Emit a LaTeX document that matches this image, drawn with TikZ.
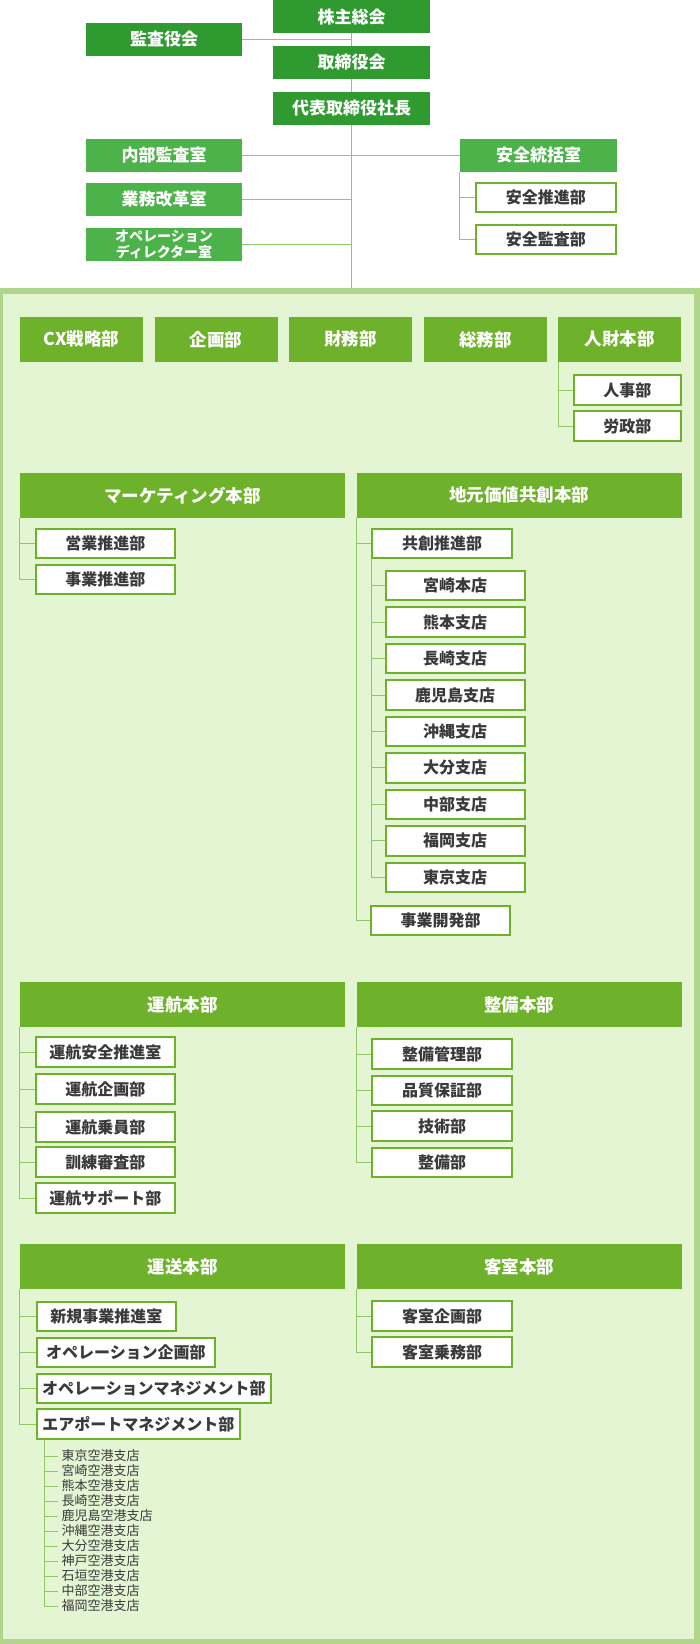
\documentclass[tikz,border=0pt]{standalone}
\usepackage{fontspec}
\setmainfont{Noto Sans CJK JP}
\definecolor{topgreen}{RGB}{47,154,48}
\definecolor{staffgreen}{RGB}{76,178,74}
\definecolor{hqgreen}{RGB}{110,177,42}
\definecolor{linegreen}{RGB}{143,200,100}
\definecolor{frameline}{RGB}{176,214,140}
\definecolor{framefill}{RGB}{228,245,212}
\definecolor{textgray}{RGB}{58,58,58}
\tikzset{
  boxbase/.style={inner sep=0pt, align=center},
  topbox/.style={boxbase, fill=topgreen, text=white, minimum width=157pt, minimum height=33pt,
    font=\bfseries\fontsize{17}{19}\selectfont},
  staffbox/.style={topbox, fill=staffgreen},
  hqbox/.style={boxbase, fill=hqgreen, text=white, minimum height=44.7pt,
    font=\bfseries\fontsize{17.5}{19}\selectfont},
  deptbox/.style={boxbase, fill=white, draw=hqgreen, line width=2pt, text=textgray,
    minimum width=139.5pt, minimum height=29.3pt, font=\bfseries\fontsize{16}{18}\selectfont},
  airport/.style={anchor=west, inner xsep=3pt, inner ysep=0pt, text=textgray,
    font=\fontsize{13}{14}\selectfont},
  link/.style={draw=linegreen, line width=1pt}
}
\begin{document}
\begin{tikzpicture}[x=1pt, y=-1pt]
	\useasboundingbox (0,0) rectangle (700,1644);

	% frame
	\fill[frameline] (0,288) rectangle (700,1644);
	\fill[framefill] (3,293.5) rectangle (694,1639);
	\coordinate (frametop) at (351.5,288);

	% top management
	\node[topbox] (kabu) at (351.5,16.5) {株主総会};
	\node[topbox, minimum width=156pt] (kansa) at (164,39.5) {監査役会};
	\node[topbox] (torishimari) at (351.5,62.5) {取締役会};
	\node[topbox] (shacho) at (351.5,108.5) {代表取締役社長};
	\node[staffbox, minimum width=156pt] (naibu) at (164,155.5) {内部監査室};
	\node[staffbox, minimum width=156pt] (kaikaku) at (164,199.5) {業務改革室};
	\node[staffbox, minimum width=156pt, font=\bfseries\fontsize{14}{15.6}\selectfont] (opdir) at (164,244.5) {オペレーション\\ディレクター室};
	\node[staffbox] (anzen) at (538.5,155.5) {安全統括室};
	\node[deptbox, minimum width=140.5pt] (anzensuishin) at (545.75,197.7) {安全推進部};
	\node[deptbox, minimum width=140.5pt] (anzenkansa) at (545.75,239.8) {安全監査部};

	\draw[link] (kabu) -- (torishimari);
	\draw[link] (torishimari) -- (shacho);
	\draw[link] (shacho) -- (frametop);
	\draw[link] (kansa.east) -- (kansa.east -| kabu);
	\draw[link] (naibu.east) -- (anzen.west);
	\draw[link] (kaikaku.east) -- (kaikaku.east -| shacho);
	\draw[link] (opdir.east) -- (opdir.east -| shacho);
	\draw[link] (anzen.south west) |- (anzensuishin.west);
	\draw[link] (anzen.south west) |- (anzenkansa.west);

	% first row
	\foreach \name/\txt [count=\i from 0] in {cx/CX戦略部, kikaku/企画部, zaimu/財務部, somu/総務部, jinzai/人財本部}
		\node[hqbox, minimum width=123pt] (\name) at (81.5+134.6*\i,339.35) {\txt};
	\node[deptbox, minimum width=106.7pt, minimum height=30pt] (jinji) at (627.35,390.3) {人事部};
	\node[deptbox, minimum width=106.7pt, minimum height=30pt] (rosei) at (627.35,426.3) {労政部};
	\draw[link] (jinzai.south west) |- (jinji.west);
	\draw[link] (jinzai.south west) |- (rosei.west);

	% marketing / chiiki
	\node[hqbox, minimum width=325pt] (mkt) at (182.5,495.35) {マーケティング本部};
	\node[hqbox, minimum width=324.7pt] (chimoto) at (519.35,495.35) {地元価値共創本部};
	\node[deptbox] (eigyo) at (105.25,543.5) {営業推進部};
	\node[deptbox] (jigyo) at (105.25,579.7) {事業推進部};
	\draw[link] (mkt.south west) |- (eigyo.west);
	\draw[link] (mkt.south west) |- (jigyo.west);

	\node[deptbox, minimum width=140pt] (kyoso) at (442,543.5) {共創推進部};
	\foreach \txt [count=\i from 0] in {宮崎本店, 熊本支店, 長崎支店, 鹿児島支店, 沖縄支店, 大分支店, 中部支店, 福岡支店, 東京支店} {
		\node[deptbox, minimum width=139pt] (shiten\i) at (455,585.65+36.46*\i) {\txt};
		\draw[link] (kyoso.south west) |- (shiten\i.west);
	}
	\node[deptbox, minimum width=139.3pt] (kaihatsu) at (440.65,920.3) {事業開発部};
	\draw[link] (chimoto.south west) |- (kyoso.west);
	\draw[link] (chimoto.south west) |- (kaihatsu.west);

	% flight ops / maintenance
	\node[hqbox, minimum width=325pt] (unko) at (182.5,1004.5) {運航本部};
	\node[hqbox, minimum width=324.7pt] (seibi) at (519.35,1004.5) {整備本部};
	\foreach \txt/\y [count=\i] in {運航安全推進室/1052, 運航企画部/1089, 運航乗員部/1127, 訓練審査部/1162, 運航サポート部/1198} {
		\node[deptbox] (unko\i) at (105.25,\y) {\txt};
		\draw[link] (unko.south west) |- (unko\i.west);
	}
	\foreach \txt/\y [count=\i] in {整備管理部/1054, 品質保証部/1090.7, 技術部/1126, 整備部/1162.7} {
		\node[deptbox, minimum width=140pt] (seibi\i) at (442,\y) {\txt};
		\draw[link] (seibi.south west) |- (seibi\i.west);
	}

	% transport / cabin
	\node[hqbox, minimum width=325pt] (unso) at (182.5,1266.35) {運送本部};
	\node[hqbox, minimum width=324.7pt] (kyakushitsu) at (519.35,1266.35) {客室本部};
	\node[deptbox, anchor=west] (shinki) at (35.5,1316.7) {新規事業推進室};
	\node[deptbox, anchor=west, minimum width=178.8pt] (opkikaku) at (35.5,1352.8) {オペレーション企画部};
	\node[deptbox, anchor=west, minimum width=234.8pt] (opmanage) at (35.5,1388.8) {オペレーションマネジメント部};
	\node[deptbox, anchor=west, minimum width=203.5pt] (airport) at (35.5,1424) {エアポートマネジメント部};
	\foreach \n in {shinki, opkikaku, opmanage, airport}
		\draw[link] (unso.south west) |- (\n.west);
	\node[deptbox, minimum width=140pt] (kyakukikaku) at (442,1316) {客室企画部};
	\node[deptbox, minimum width=140pt] (kyakujomu) at (442,1352) {客室乗務部};
	\draw[link] (kyakushitsu.south west) |- (kyakukikaku.west);
	\draw[link] (kyakushitsu.south west) |- (kyakujomu.west);

	% airport branches
	\foreach \txt [count=\i from 0] in {東京空港支店, 宮崎空港支店, 熊本空港支店, 長崎空港支店, 鹿児島空港支店, 沖縄空港支店, 大分空港支店, 神戸空港支店, 石垣空港支店, 中部空港支店, 福岡空港支店} {
		\node[airport] (ap\i) at (58.3,1456+15*\i) {\txt};
		\draw[link] ([xshift=9pt]airport.south west) |- (ap\i.west);
	}
\end{tikzpicture}
\end{document}
